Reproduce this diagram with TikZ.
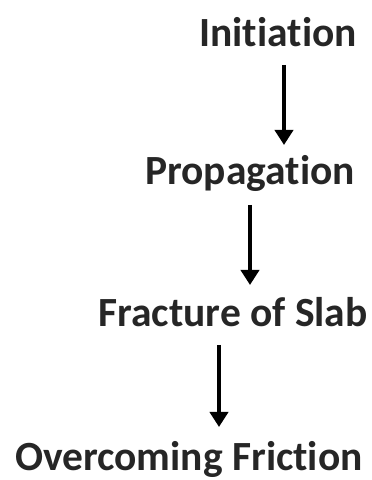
\documentclass[tikz,border=0pt]{standalone}
\usepackage{fontspec}
\setmainfont[Ligatures=NoCommon]{Carlito}
\usetikzlibrary{arrows.meta}
\definecolor{step_text}{RGB}{38, 38, 38}
\tikzset{
  stagenode/.style = {anchor=base, inner sep=0pt, text=step_text,
  font=\fontsize{41.5}{48}\selectfont\bfseries},
  flow/.style = {-{Triangle[width=18pt,length=15pt]}, line width=4pt, black}
}

\begin{document}
\begin{tikzpicture}[x=1pt,y=1pt]
  \useasboundingbox (0,0) rectangle (372,480);
  \node [stagenode] (init) at (278,433) {Initiation};
  \node [stagenode] (prop) at (250,295) {Propagation};
  \node [stagenode] (frac) at (233,153) {Fracture of Slab};
  \node [stagenode] (fric) at (189,9.5) {Overcoming Friction};
  \draw [flow] ([shift={(6pt,-18pt)}]init.base) -- ([shift={(34pt,40pt)}]prop.base);
  \draw [flow] ([shift={(0pt,-20pt)}]prop.base) -- ([shift={(17pt,42pt)}]frac.base);
  \draw [flow] ([shift={(-14pt,-18pt)}]frac.base) -- ([shift={(30pt,43.5pt)}]fric.base);
\end{tikzpicture}
\end{document}
